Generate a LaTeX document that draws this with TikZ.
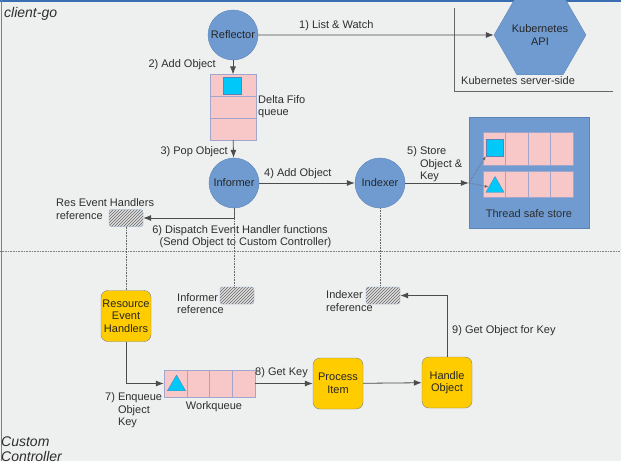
\documentclass[tikz,border=0pt]{standalone}
\usepackage{fontspec}
\setmainfont{Liberation Sans}
\usetikzlibrary{positioning,arrows.meta,shapes.geometric,patterns}
\definecolor{bg}{HTML}{EEEFEF}
\definecolor{blu}{HTML}{6F9BD0}
\definecolor{bluedge}{HTML}{5A84B8}
\definecolor{pnk}{HTML}{F8C8C8}
\definecolor{pnkedge}{HTML}{A3A6CC}
\definecolor{cyn}{HTML}{00C8F8}
\definecolor{yel}{HTML}{FFCC00}
\definecolor{ink}{HTML}{2E2E2E}
\definecolor{topbar}{HTML}{3B6DB3}

\begin{document}
\begin{tikzpicture}[x=1pt, y=-1pt, >={Latex[length=8pt,width=6pt]},
  font=\fontsize{11}{12.5}\selectfont, text=ink,
  circ/.style={circle, draw=bluedge, fill=blu, minimum size=50pt, inner sep=0pt, text=black!85},
  yelbox/.style={draw=gray, fill=yel, rounded corners=7pt, minimum width=50pt, minimum height=51pt, align=center, inner sep=1pt, text=black!85},
  cell/.style={draw=pnkedge, fill=pnk, inner sep=0pt},
  ref/.style={draw=bluedge!70, rounded corners=2.5pt, minimum width=34pt, minimum height=17pt, inner sep=0pt,
    pattern=north east lines, pattern color=black!60, preaction={fill=gray!25}},
  lbl/.style={inner sep=0pt, align=left},
  link/.style={->, draw=black!70, line width=0.8pt},
  tie/.style={densely dotted, draw=black!60, line width=0.6pt}]
  \useasboundingbox (0,0) rectangle (621,461);
  \clip (0,0) rectangle (621,461);
  \fill[bg] (0,0) rectangle (621,461);
  \fill[topbar] (0,0) rectangle (621,1.5);
  \draw[gray, line width=0.8pt] (1,0) -- (1,461);
  % client-go side
  \node[lbl, anchor=west, font=\fontsize{14}{15}\selectfont\itshape] (cg) at (4,14) {client-go};
  \node[circ] (refl) at (233,35) {Reflector};
  \node[regular polygon, regular polygon sides=6, draw=bluedge, fill=blu,
    minimum size=76pt, inner sep=0pt, align=center, text=black!85] (api) at (540,35) {Kubernetes\\API};
  \draw[black!60, line width=0.7pt] (454,8) -- (454,91) -- (613,91);
  \node[lbl, anchor=west] (srv) at (461,81) {Kubernetes server-side};
  \foreach \i/\y in {0/85.5, 1/107, 2/129}
    \node[cell, minimum width=46pt, minimum height=21.7pt] (df\i) at (233,\y) {};
  \node[draw=bluedge, fill=cyn, minimum size=17.5pt, inner sep=0pt] (sq1) at (232,85.5) {};
  \node[lbl, anchor=west] (dfl) at (258,106.5) {Delta Fifo\\queue};
  \node[circ] (inf) at (234,183) {Informer};
  \node[circ] (idx) at (380,183) {Indexer};
  \node[draw=bluedge, fill=blu, minimum width=120pt, minimum height=111pt, inner sep=0pt] (store) at (529,172.5) {};
  \foreach \i in {0,...,3} {
    \node[cell, minimum width=22.5pt, minimum height=33pt] (sa\i) at (494.25+22.5*\i,148.5) {};
    \node[cell, minimum width=22.5pt, minimum height=26pt] (sb\i) at (494.25+22.5*\i,184.5) {};
  }
  \node[draw=bluedge, fill=cyn, minimum size=17pt, inner sep=0pt] (sq2) at (494.5,147.5) {};
  \node[regular polygon, regular polygon sides=3, draw=bluedge, fill=cyn, minimum size=21pt, inner sep=0pt] (tri2) at (495,187) {};
  \node[lbl] (tss) at (529,214) {Thread safe store};
  \node[ref] (resref) at (126,218) {};
  \node[lbl, anchor=west] (resl) at (56,209) {Res Event Handlers\\reference};
  % connectors, client-go
  \draw[link] (refl) -- (api.west);
  \node[lbl, anchor=west] (l1) at (299,26) {1) List \& Watch};
  \draw[link] (refl) -- (df0);
  \node[lbl, anchor=east] (l2) at (216,65) {2) Add Object};
  \draw[link] (df2) -- (inf);
  \node[lbl, anchor=east] (l3) at (228,152) {3) Pop Object};
  \draw[link] (inf) -- (idx);
  \node[lbl, anchor=west] (l4) at (264,174) {4) Add Object};
  \coordinate (sin) at (idx.east -| store.west);
  \draw[link] (idx) -- (sin);
  \node[lbl, anchor=west] (l5) at (407,164.5) {5) Store\\\phantom{5) }Object \&\\\phantom{5) }Key};
  \draw[tie, ->, >={Latex[length=4pt,width=3pt]}] (sin) -- (sq2.south west);
  \draw[tie, ->, >={Latex[length=4pt,width=3pt]}] (sin) -- (tri2.west);
  \draw[link] (inf.south) |- (resref.east);
  \node[lbl, align=center] (l6) at (240,236.5) {6) Dispatch Event Handler functions\\\phantom{xx}(Send Object to Custom Controller)};
  % divider
  \draw[tie, black!50] (0,251) -- (621,251);
  % custom controller side
  \node[lbl, anchor=west, font=\fontsize{14}{15}\selectfont\itshape] (cc) at (1,449) {Custom\\Controller};
  \node[yelbox] (reh) at (126,316) {Resource\\Event\\Handlers};
  \node[ref] (infref) at (237,295.5) {};
  \node[lbl, anchor=west] (infl) at (177,303.5) {Informer\\reference};
  \node[ref] (ixref) at (383,295.5) {};
  \node[lbl, anchor=west] (ixl) at (326,301) {Indexer\\reference};
  \foreach \i in {0,...,3}
    \node[cell, minimum width=22.75pt, minimum height=27pt] (wq\i) at (175.4+22.75*\i,383.5) {};
  \node[regular polygon, regular polygon sides=3, draw=bluedge, fill=cyn, minimum size=21pt, inner sep=0pt] (tri1) at (176.5,385.5) {};
  \node[lbl] (wql) at (214,407) {Workqueue};
  \node[yelbox] (pi) at (338,383.5) {Process\\Item};
  \node[yelbox] (ho) at (447,382.5) {Handle\\Object};
  % connectors, custom controller
  \draw[tie] (resref.south) -- (reh.north);
  \draw[tie] (inf.south) -- (inf.south |- infref.north);
  \draw[tie] (idx.south) -- (idx.south |- ixref.north);
  \draw[link] (reh.south) |- (wq0.west);
  \node[lbl, anchor=west] (l7) at (105,410.5) {7) Enqueue\\\phantom{7) }Object\\\phantom{7) }Key};
  \draw[link] (wq3.east) -- (pi.west |- wq3.east);
  \node[lbl, anchor=west] (l8) at (255,373) {8) Get Key};
  \draw[link] (pi) -- (ho);
  \draw[link] (ho.north) |- (ixref.east);
  \node[lbl, anchor=west] (l9) at (452,331) {9) Get Object for Key};
\end{tikzpicture}
\end{document}
